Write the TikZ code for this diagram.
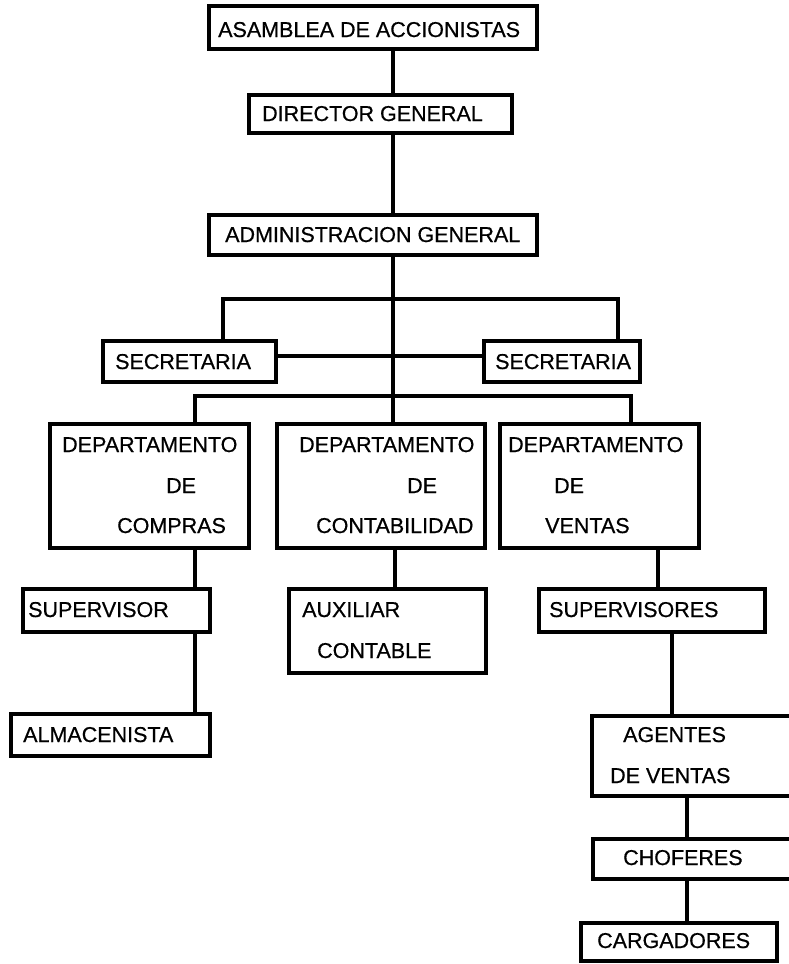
\documentclass[tikz,border=0pt]{standalone}
\usepackage{fontspec}
\setmainfont{Liberation Sans}[BoldFont={Liberation Sans},BoldFeatures={FakeBold=0.6}]
\begin{document}
\begin{tikzpicture}[x=1pt,y=-1pt,
  box/.style={draw=black,line width=4pt,fill=white,inner sep=0pt,rectangle},
  lbl/.style={anchor=base west,inner sep=0pt,font=\fontsize{21.5}{24}\selectfont\bfseries},
  conn/.style={draw=black,line width=4pt}]
\useasboundingbox (0,0) rectangle (789,964);
\clip (0,0) rectangle (789,964);
% x positions of connectors
\coordinate (t) at (393,0);
\coordinate (cL) at (223,0);
\coordinate (cR) at (618,0);
\coordinate (b1) at (393,299);
\coordinate (b2) at (393,356);
\coordinate (b3) at (393,396);
\coordinate (dL) at (195,0);
\coordinate (dC) at (395,0);
\coordinate (dR) at (631,0);
\coordinate (eR) at (658,0);
\coordinate (fR) at (672,0);
\coordinate (gR) at (687,0);
% boxes
\node[box,minimum width=328pt,minimum height=43pt] (asamblea) at (373,27.5) {};
\node[box,minimum width=263pt,minimum height=38pt] (director) at (380.5,114) {};
\node[box,minimum width=328pt,minimum height=40pt] (admin) at (373,235) {};
\node[box,minimum width=173pt,minimum height=41pt] (secL) at (189.5,361.5) {};
\node[box,minimum width=156pt,minimum height=41pt] (secR) at (562,361.5) {};
\node[box,minimum width=199pt,minimum height=124pt] (deptL) at (149.5,486) {};
\node[box,minimum width=208pt,minimum height=124pt] (deptC) at (381,486) {};
\node[box,minimum width=199pt,minimum height=124pt] (deptR) at (599.5,486) {};
\node[box,minimum width=187pt,minimum height=43pt] (sup) at (116.5,610.5) {};
\node[box,minimum width=197pt,minimum height=84pt] (aux) at (387.5,631) {};
\node[box,minimum width=226pt,minimum height=43pt] (sups) at (652,610.5) {};
\node[box,minimum width=199pt,minimum height=42pt] (alm) at (110.5,735) {};
\node[box,minimum width=208pt,minimum height=80pt] (agentes) at (696,756) {};
\node[box,minimum width=207pt,minimum height=40pt] (chof) at (696.5,859) {};
\node[box,minimum width=196pt,minimum height=38pt] (carg) at (679,942) {};
% connectors
\draw[conn] (asamblea.south -| t) -- (director.north -| t);
\draw[conn] (director.south -| t) -- (admin.north -| t);
\draw[conn] (admin.south -| t) -- (deptC.north -| t);
\draw[conn] (secL.north -| cL) |- (b1) -| (secR.north -| cR);
\draw[conn] (secL.east |- b2) -- (secR.west |- b2);
\draw[conn] (deptL.north -| dL) |- (b3) -| (deptR.north -| dR);
\draw[conn] (deptL.south -| dL) -- (sup.north -| dL);
\draw[conn] (sup.south -| dL) -- (alm.north -| dL);
\draw[conn] (deptC.south -| dC) -- (aux.north -| dC);
\draw[conn] (deptR.south -| eR) -- (sups.north -| eR);
\draw[conn] (sups.south -| fR) -- (agentes.north -| fR);
\draw[conn] (agentes.south -| gR) -- (chof.north -| gR);
\draw[conn] (chof.south -| gR) -- (carg.north -| gR);
% labels
\node[lbl] at (218,37) {ASAMBLEA DE ACCIONISTAS};
\node[lbl] at (262,121) {DIRECTOR GENERAL};
\node[lbl] at (225,242) {ADMINISTRACION GENERAL};
\node[lbl] at (115,369) {SECRETARIA};
\node[lbl] at (495,369) {SECRETARIA};
\node[lbl] at (62,452) {DEPARTAMENTO};
\node[lbl] at (166,493) {DE};
\node[lbl] at (117,533) {COMPRAS};
\node[lbl] at (299,452) {DEPARTAMENTO};
\node[lbl] at (407,493) {DE};
\node[lbl] at (316,533) {CONTABILIDAD};
\node[lbl] at (508,452) {DEPARTAMENTO};
\node[lbl] at (554,493) {DE};
\node[lbl] at (545,533) {VENTAS};
\node[lbl] at (28,617) {SUPERVISOR};
\node[lbl] at (302,617) {AUXILIAR};
\node[lbl] at (317,658) {CONTABLE};
\node[lbl] at (549,617) {SUPERVISORES};
\node[lbl] at (23,742) {ALMACENISTA};
\node[lbl] at (623,742) {AGENTES};
\node[lbl] at (610,783) {DE VENTAS};
\node[lbl] at (623,865) {CHOFERES};
\node[lbl] at (597,948) {CARGADORES};
\end{tikzpicture}
\end{document}
